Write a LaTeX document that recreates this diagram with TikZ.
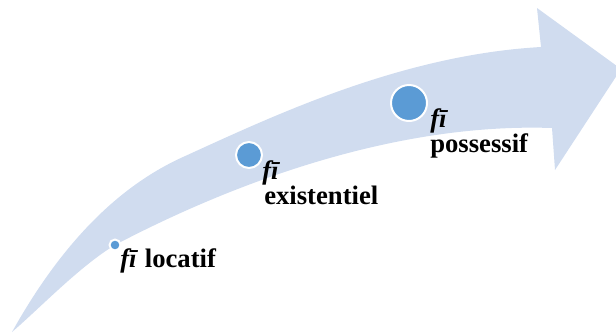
\documentclass[tikz,border=0pt]{standalone}
\usepackage{fontspec}
\setmainfont{Liberation Serif}
\begin{document}
\begin{tikzpicture}[x=0.75pt, y=-0.75pt, line join=round]

    \definecolor{bandblue}{RGB}{208,220,239}
    \definecolor{dotblue}{RGB}{91,155,213}

    \useasboundingbox (0,0) rectangle (616,333);
    \clip (0,0) rectangle (616,333);

    % curved band with its head
    \fill[bandblue]
      (12,332) .. controls (55,255) and (110,190) .. (183,157)
      .. controls (271,117) and (400,55) .. (541,47)
      -- (537,8)
      -- (621,69)
      -- (555,170)
      -- (552,128)
      .. controls (380,122) and (210,195) .. (115,245)
      .. controls (80,266) and (40,308) .. (12,332)
      -- cycle;

    \tikzset{
      dot/.style={
        circle, fill=dotblue, draw=white, line width=1.5pt, inner sep=0pt
      },
      lbl/.style={anchor=base west, inner sep=0pt,
        font=\bfseries\fontsize{20}{24}\selectfont}
    }

    \node[dot, minimum size=8.25pt] (locdot) at (115,245) {};
    \node[dot, minimum size=19.5pt] (exdot) at (249,155) {};
    \node[dot, minimum size=27pt] (posdot) at (409,103) {};

    \node[lbl] (loclbl) at (120,267) {\textit{fī} locatif};

    \node[lbl] (exfi) at (262,179) {\textit{fī}};
    \node[lbl] (exlbl) at (264,204) {existentiel};

    \node[lbl] (posfi) at (430,127) {\textit{fī}};
    \node[lbl] (poslbl) at (430,152) {possessif};

\end{tikzpicture}
\end{document}
